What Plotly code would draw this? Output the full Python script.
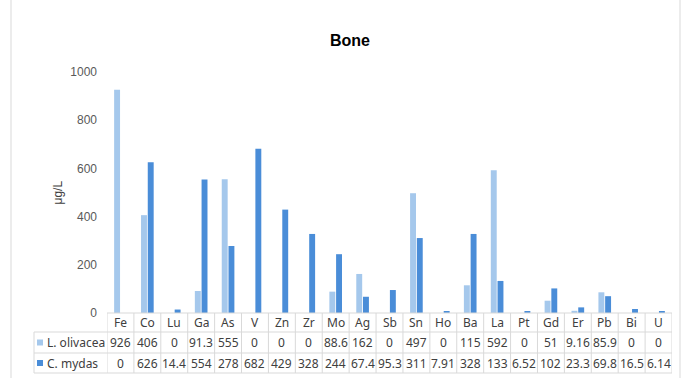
import plotly.graph_objects as go

# Element concentrations in bone (µg/L)
elements = ["Fe", "Co", "Lu", "Ga", "As", "V", "Zn", "Zr", "Mo", "Ag", "Sb",
            "Sn", "Ho", "Ba", "La", "Pt", "Gd", "Er", "Pb", "Bi", "U"]
l_olivacea = [926, 406, 0, 91.3, 555, 0, 0, 0, 88.6, 162, 0,
              497, 0, 115, 592, 0, 51, 9.16, 85.9, 0, 0]
c_mydas = [0, 626, 14.4, 554, 278, 682, 429, 328, 244, 67.4, 95.3,
           311, 7.91, 328, 133, 6.52, 102, 23.3, 69.8, 16.5, 6.14]
series_names = ["L. olivacea", "C. mydas"]
y_ticks = [0, 200, 400, 600, 800, 1000]

W, H = 686, 378
PLOT_L, PLOT_R, PLOT_T, PLOT_B = 107, 672, 72, 313
LIGHT = "#A5C8EC"
DARK = "#4A8DD8"
GRID = "#D9D9D9"
TXT = "#404040"


def px_x(px):
    return (px - PLOT_L) / (PLOT_R - PLOT_L)


def px_y(py):
    return (PLOT_B - py) / (PLOT_B - PLOT_T)


fig = go.Figure()
fig.add_trace(go.Bar(x=elements, y=l_olivacea, name=series_names[0],
                     marker=dict(color=LIGHT, line=dict(width=0))))
fig.add_trace(go.Bar(x=elements, y=c_mydas, name=series_names[1],
                     marker=dict(color=DARK, line=dict(width=0))))

shapes = []
annotations = []

# data table grid below the plot
row_lines = [313, 332, 353, 373]
n = len(elements)
for i, py in enumerate(row_lines):
    if i == 0:
        shapes.append(dict(type="line", xref="x", yref="paper", x0=-0.5, x1=n - 0.5,
                           y0=px_y(py), y1=px_y(py), line=dict(color=GRID, width=1)))
    else:
        shapes.append(dict(type="line", xref="paper", yref="paper", x0=px_x(34), x1=1,
                           y0=px_y(py), y1=px_y(py), line=dict(color=GRID, width=1)))
for k in range(n + 1):
    shapes.append(dict(type="line", xref="x", yref="paper", x0=k - 0.5, x1=k - 0.5,
                       y0=px_y(313), y1=px_y(373), line=dict(color=GRID, width=1)))
shapes.append(dict(type="line", xref="paper", yref="paper", x0=px_x(34), x1=px_x(34),
                   y0=px_y(332), y1=px_y(373), line=dict(color=GRID, width=1)))

# chart frame edges
for bx in (11, 680):
    shapes.append(dict(type="line", xref="paper", yref="paper", x0=px_x(bx), x1=px_x(bx),
                       y0=px_y(0), y1=px_y(378), line=dict(color="#D9D9D9", width=1)))

tfont = dict(family="Noto Sans, sans-serif", size=12, color=TXT)

# header row
for el in elements:
    annotations.append(dict(x=el, xref="x", y=px_y(322.5), yref="paper", text=el,
                            showarrow=False, font=tfont, xanchor="center", yanchor="middle"))

# value rows with legend keys
rows = [(l_olivacea, LIGHT, 342.5), (c_mydas, DARK, 363)]
for (vals, col, yc), name in zip(rows, series_names):
    shapes.append(dict(type="rect", xref="paper", yref="paper",
                       x0=px_x(37), x1=px_x(43), y0=px_y(yc - 3), y1=px_y(yc + 3),
                       fillcolor=col, line=dict(width=0)))
    annotations.append(dict(x=px_x(45), xref="paper", y=px_y(yc), yref="paper", text=name,
                            showarrow=False, font=tfont, xanchor="left", yanchor="middle"))
    for el, v in zip(elements, vals):
        annotations.append(dict(x=el, xref="x", y=px_y(yc), yref="paper", text=f"{v:g}",
                                showarrow=False, font=tfont, xanchor="center", yanchor="middle"))

# y-axis title
annotations.append(dict(x=px_x(57), xref="paper", y=0.5, yref="paper", text="μg/L",
                        textangle=-90, showarrow=False,
                        font=dict(family="Liberation Sans, Arial, sans-serif", size=12, color=TXT),
                        xanchor="center", yanchor="middle"))

fig.update_layout(
    width=W, height=H,
    margin=dict(l=PLOT_L, r=W - PLOT_R, t=PLOT_T, b=H - PLOT_B),
    paper_bgcolor="white", plot_bgcolor="white",
    showlegend=False,
    barmode="group", bargap=0.5, bargroupgap=0.12,
    title=dict(text="<b>Bone</b>", x=350 / W, xref="container", xanchor="center",
               y=1 - 40 / H, yref="container", yanchor="middle",
               font=dict(family="Liberation Sans, Arial, sans-serif", size=16, color="black")),
    xaxis=dict(showticklabels=False, showline=False, showgrid=False, zeroline=False,
               range=[-0.5, n - 0.5], fixedrange=True),
    yaxis=dict(range=[0, 1000], tickvals=y_ticks, showgrid=False, zeroline=False,
               showline=False, ticks="", ticklabelstandoff=9,
               tickfont=dict(family="Liberation Sans, Arial, sans-serif", size=12, color="#595959")),
    shapes=shapes, annotations=annotations,
)

fig.write_html("out.html")
